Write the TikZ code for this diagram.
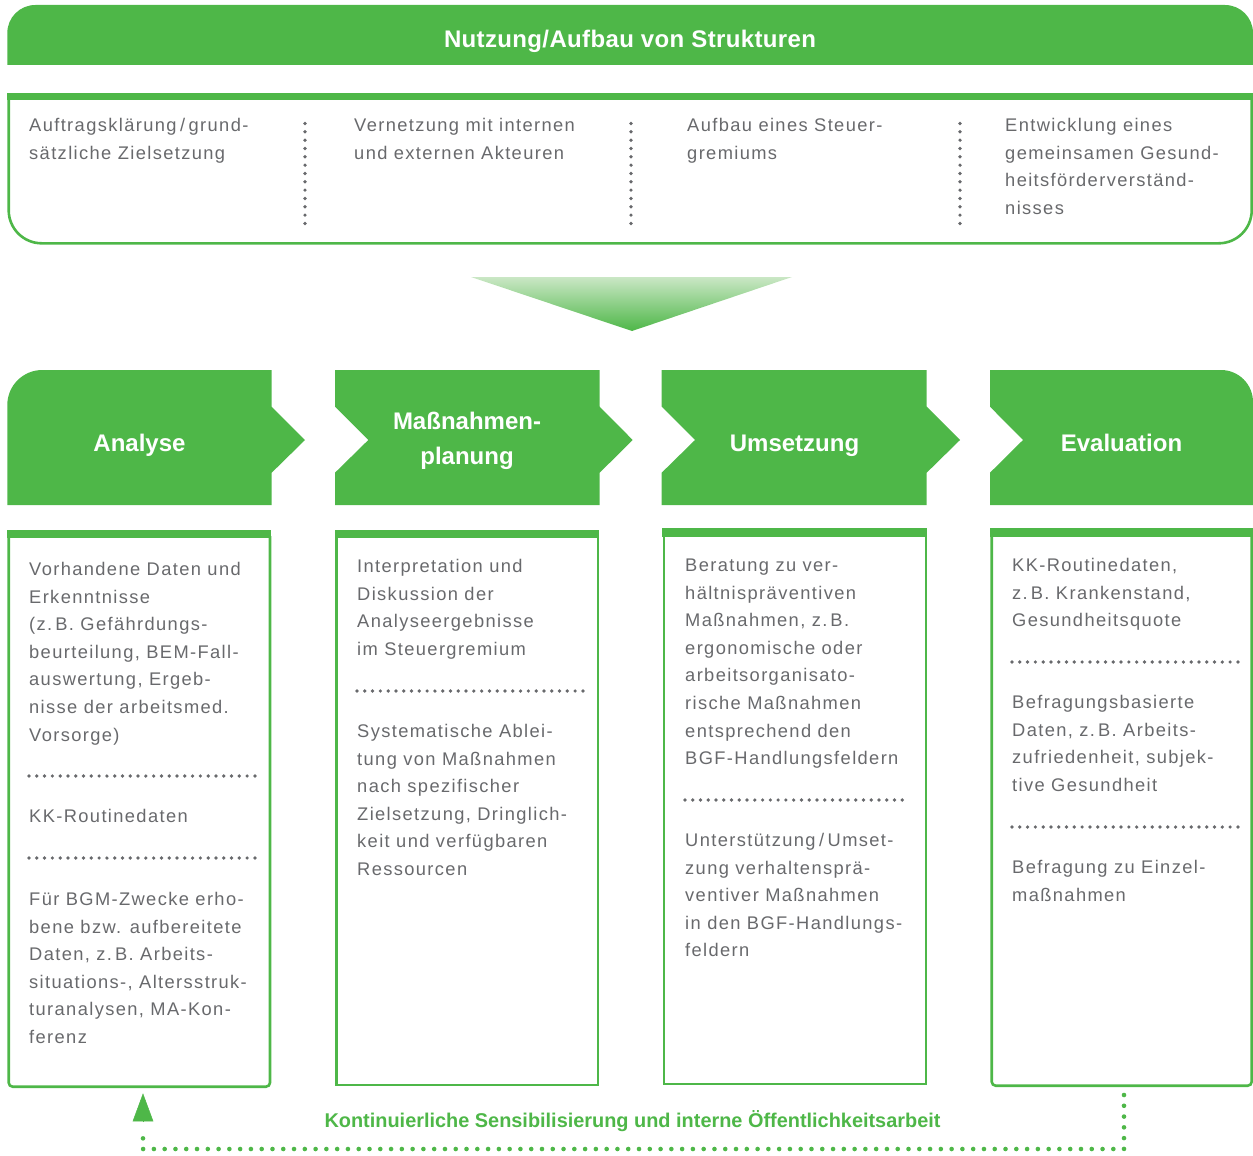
\documentclass[tikz,border=0pt]{standalone}
\usepackage{fontspec}
\setmainfont{Liberation Sans}
\newfontfamily\bodyfont[LetterSpace=7.5]{Liberation Sans}
\newfontfamily\titlefont[LetterSpace=1.5]{Liberation Sans}
\usetikzlibrary{arrows.meta}

\definecolor{bgmgreen}{RGB}{78,183,72}
\definecolor{bgmlight}{RGB}{202,231,197}
\definecolor{bgmgray}{RGB}{104,105,108}

% slash with open spacing
\newcommand{\wideslash}{\kern3.5pt/\kern3.5pt}

\tikzset{
  bodytext/.style={font=\bodyfont\fontsize{18.3}{27.6}\selectfont, text=bgmgray,
                   align=left, anchor=north west, inner sep=0pt},
  headtext/.style={font=\bfseries\fontsize{24}{35}\selectfont, text=white,
                   align=center, inner sep=0pt},
  boxframe/.style={draw=bgmgreen, line width=2.6pt},
  graydots/.style={draw=bgmgray, line width=3.7pt, line cap=round,
                   dash pattern=on 0pt off #1},
  fbdots/.style={draw=bgmgreen, line width=4.6pt, line cap=round,
                 dash pattern=on 0pt off 10.78pt},
}

\begin{document}
\begin{tikzpicture}[x=1pt,y=-1pt]
\useasboundingbox (0,0) rectangle (1253,1156);

% ---------- banner ----------
\fill[bgmgreen] (7.3,65) -- (7.3,33) arc[start angle=180,end angle=90,radius=28pt]
  -- (1225,5) arc[start angle=90,end angle=0,radius=28pt] -- (1253,65) -- cycle;
\node[font=\titlefont\bfseries\fontsize{24}{30}\selectfont, text=white, inner sep=0pt,
      anchor=base] (title) at (630,47.5) {Nutzung/Aufbau von Strukturen};

% ---------- structure box ----------
\fill[bgmgreen] (7.4,93.3) rectangle (1253,100);
\draw[boxframe] (8.7,99) -- (8.7,210.3) arc[start angle=180,end angle=270,radius=33pt]
  -- (1218.7,243.3) arc[start angle=270,end angle=360,radius=33pt] -- (1251.7,99);

\node[bodytext] (s1) at (29,112.2)  {\strut Auftragsklärung\wideslash grund-\\sätzliche Zielsetzung};
\node[bodytext] (s2) at (354,112.2) {\strut Vernetzung mit internen\\und externen Akteuren};
\node[bodytext] (s3) at (687,112.2) {\strut Aufbau eines Steuer-\\gremiums};
\node[bodytext] (s4) at (1005,112.2) {\strut Entwicklung eines\\gemeinsamen Gesund-\\heitsförderverständ-\\nisses};

\foreach \x in {305,631,960}
  \draw[graydots=8.33pt] (\x,123.5) -- (\x,223.5);

% ---------- arrow between the blocks ----------
\shade[top color=bgmlight, bottom color=bgmgreen] (471,277) -- (792,277) -- (632,331) -- cycle;

% ---------- process headers ----------
\fill[bgmgreen] (7.3,505) -- (7.3,405) arc[start angle=180,end angle=90,radius=35pt]
  -- (271.7,370) -- (271.7,406.7) -- (305,440) -- (271.7,472.7) -- (271.7,505) -- cycle;
\fill[bgmgreen] (335,370) -- (599.7,370) -- (599.7,406.7) -- (632.7,440) -- (599.7,472.7)
  -- (599.7,505) -- (335,505) -- (335,472.7) -- (368.3,440) -- (335,406.7) -- cycle;
\fill[bgmgreen] (661.7,370) -- (926.7,370) -- (926.7,406.7) -- (960,440) -- (926.7,472.7)
  -- (926.7,505) -- (661.7,505) -- (661.7,472.7) -- (695,440) -- (661.7,406.7) -- cycle;
\fill[bgmgreen] (990,370) -- (1221,370) arc[start angle=90,end angle=0,radius=32pt]
  -- (1253,505) -- (990,505) -- (990,472.7) -- (1023,440) -- (990,406.7) -- cycle;

\node[headtext, anchor=base] (h1) at (139.5,451.7) {Analyse};
\node[headtext] (h2) at (467,441) {Maßnahmen-\\planung};
\node[headtext, anchor=base] (h3) at (794.5,451.2) {Umsetzung};
\node[headtext, anchor=base] (h4) at (1121.5,451.5) {Evaluation};

% ---------- content boxes ----------
\fill[bgmgreen] (7.4,530) rectangle (271.3,538.3);
\draw[boxframe, rounded corners=4pt] (8.7,536) -- (8.7,1086.7) -- (270,1086.7) -- (270,536);
\fill[bgmgreen] (335,530) rectangle (599.3,538.3);
\draw[boxframe] (336.3,536) -- (336.3,1084.8) -- (598,1084.8) -- (598,536);
\fill[bgmgreen] (662.3,528.3) rectangle (927.3,536.7);
\draw[boxframe] (664,535) -- (664,1083.8) -- (925.8,1083.8) -- (925.8,535);
\fill[bgmgreen] (990,528.3) rectangle (1253,536.7);
\draw[boxframe, rounded corners=4pt] (991.7,535) -- (991.7,1085.7) -- (1251.7,1085.7) -- (1251.7,535);

% Analyse
\node[bodytext] (a1) at (29,556) {\strut Vorhandene Daten und\\Erkenntnisse\\(z.\,B. Gefährdungs-\\beurteilung, BEM-Fall-\\auswertung, Ergeb-\\nisse der arbeitsmed.\\Vorsorge)};
\draw[graydots=7.79pt] (29,776) -- (255,776);
\node[bodytext] (a2) at (29,803) {\strut KK-Routinedaten};
\draw[graydots=7.79pt] (29,858) -- (255,858);
\node[bodytext] (a3) at (29,886) {\strut Für BGM-Zwecke erho-\\bene bzw. aufbereitete\\Daten, z.\,B. Arbeits-\\situations-, Altersstruk-\\turanalysen, MA-Kon-\\ferenz};

% Massnahmenplanung
\node[bodytext] (m1) at (357,553) {\strut Interpretation und\\Diskussion der\\Analyseergebnisse\\im Steuergremium};
\draw[graydots=7.79pt] (357,691) -- (583,691);
\node[bodytext] (m2) at (357,718) {\strut Systematische Ablei-\\tung von Maßnahmen\\nach spezifischer\\Zielsetzung, Dringlich-\\keit und verfügbaren\\Ressourcen};

% Umsetzung
\node[bodytext] (u1) at (685,552) {\strut Beratung zu ver-\\hältnispräventiven\\Maßnahmen, z.\,B.\\ergonomische oder\\arbeitsorganisato-\\rische Maßnahmen\\entsprechend den\\BGF-Handlungsfeldern};
\draw[graydots=7.76pt] (685,800) -- (910,800);
\node[bodytext] (u2) at (685,827) {\strut Unterstützung\wideslash Umset-\\zung verhaltensprä-\\ventiver Maßnahmen\\in den BGF-Handlungs-\\feldern};

% Evaluation
\node[bodytext] (e1) at (1012,552) {\strut KK-Routinedaten,\\z.\,B. Krankenstand,\\Gesundheitsquote};
\draw[graydots=7.79pt] (1012,662) -- (1238,662);
\node[bodytext] (e2) at (1012,689) {\strut Befragungsbasierte\\Daten, z.\,B. Arbeits-\\zufriedenheit, subjek-\\tive Gesundheit};
\draw[graydots=7.79pt] (1012,827) -- (1238,827);
\node[bodytext] (e3) at (1012,854) {\strut Befragung zu Einzel-\\maßnahmen};

% ---------- feedback loop ----------
\coordinate (box4-s) at (1124,1095);
\coordinate (box1-s) at (143,1093.3);
\coordinate (loopend) at (143,1129);
\coordinate (tipbase) at (143,1122);
\draw[fbdots] (box4-s) -- ++(0,54) -| (loopend);
\draw[bgmgreen, line width=0.5pt, -{Triangle[width=20.6pt,length=28pt]}] (tipbase) -- (box1-s);
\node[font=\bfseries\fontsize{19.9}{24}\selectfont, text=bgmgreen, inner sep=0pt, anchor=base]
  (fbtext) at (632.5,1127) {Kontinuierliche Sensibilisierung und interne Öffentlichkeitsarbeit};
\end{tikzpicture}
\end{document}
